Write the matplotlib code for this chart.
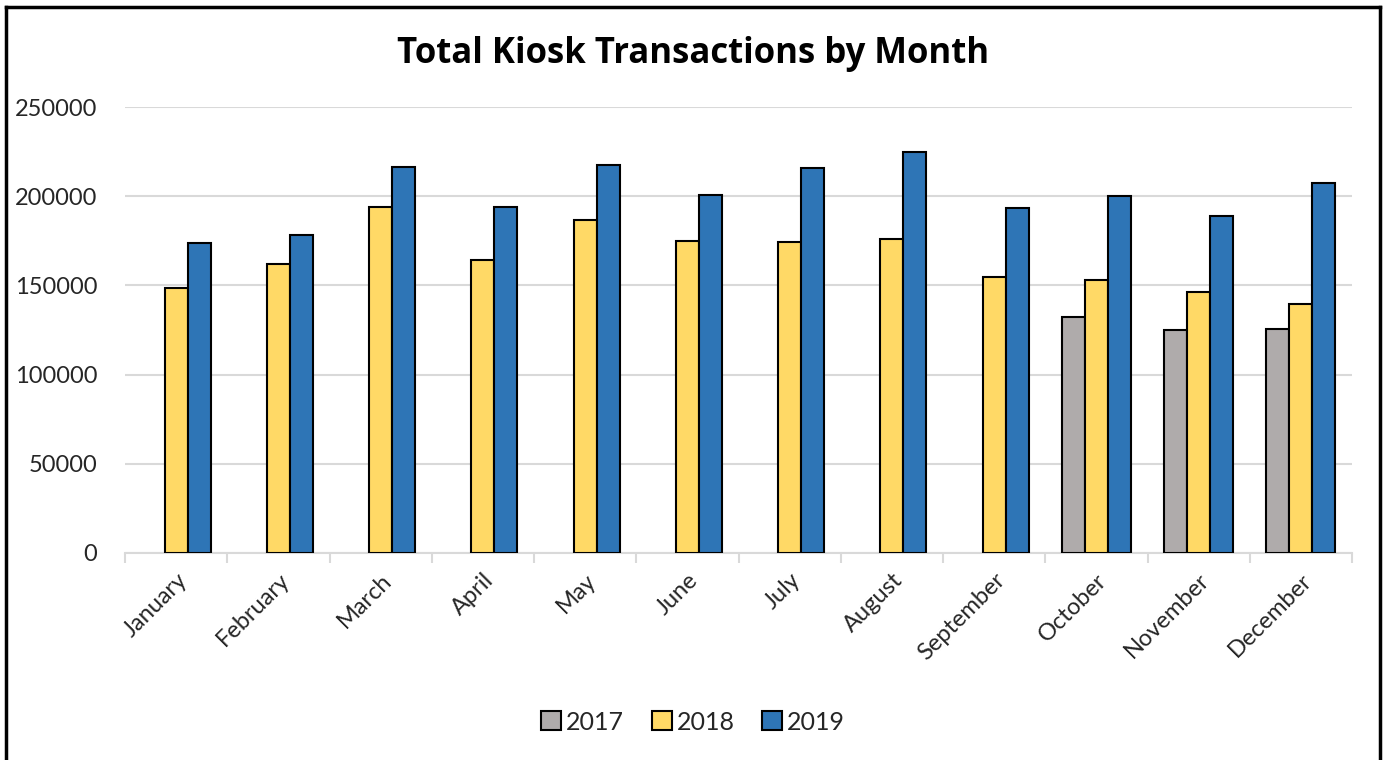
#!/usr/bin/env python3
"""
Grouped bar chart of total kiosk transactions by month, 2017-2019.
"""
import numpy as np
import matplotlib.pyplot as plt
from matplotlib.lines import Line2D

months = ['January', 'February', 'March', 'April', 'May', 'June', 'July',
          'August', 'September', 'October', 'November', 'December']
years = ['2017', '2018', '2019']

# 2017 only has data for the last three months
tx_2017 = [np.nan] * 9 + [132300, 125000, 125800]
tx_2018 = [148700, 162000, 194100, 164000, 186700, 174700,
           174200, 175800, 154500, 152800, 146500, 139600]
tx_2019 = [173500, 178300, 216400, 194100, 217700, 200800,
           216000, 224800, 193600, 200300, 189100, 207400]

colors = ['#AFABAB', '#FFD966', '#2E75B6']

plt.rcParams['font.family'] = ['Lato', 'DejaVu Sans']

fig = plt.figure(figsize=(13.86, 7.6), dpi=100)
ax = fig.add_axes([0.0902, 0.2724, 0.9755 - 0.0902, 0.8592 - 0.2724])

x = np.arange(len(months))
width = 0.225
for i, (vals, col, yr) in enumerate(zip([tx_2017, tx_2018, tx_2019], colors, years)):
    ax.bar(x + (i - 1) * width, vals, width, color=col, edgecolor='black',
           linewidth=1.5, label=yr, zorder=3)

# Axes styling
ax.set_xlim(-0.5, len(months) - 0.5)
ax.set_ylim(0, 250000)
ax.set_yticks(np.arange(0, 250001, 50000))
ax.yaxis.grid(True, color='#D9D9D9', linewidth=1.5, zorder=0)
for side in ['top', 'right', 'left']:
    ax.spines[side].set_visible(False)
ax.spines['bottom'].set_color('#D9D9D9')
ax.spines['bottom'].set_linewidth(1.5)

ax.set_xticks(x)
ax.set_xticklabels(months, rotation=45, ha='right', rotation_mode='anchor',
                   fontsize=17, color='#262626')
ax.set_xticks(np.arange(-0.5, len(months), 1), minor=True)
ax.tick_params(axis='x', which='major', length=0, pad=12)
ax.tick_params(axis='x', which='minor', length=7, width=1.5, color='#D9D9D9')
ax.tick_params(axis='y', length=0, labelsize=17, labelcolor='#262626', pad=20)

fig.suptitle('Total Kiosk Transactions by Month', x=0.5, y=0.952,
             fontsize=25, fontweight='bold', family=['Open Sans', 'DejaVu Sans'])

handles, labels = ax.get_legend_handles_labels()
fig.legend(handles, labels, loc='center', bbox_to_anchor=(0.5, 0.05), ncol=3,
           frameon=False, fontsize=18, handlelength=0.8, handleheight=0.8,
           handletextpad=0.2, columnspacing=1.1, labelcolor='#262626')

# Outer border (top, left, right)
border = dict(color='black', linewidth=2.5, transform=fig.transFigure)
fig.add_artist(Line2D([0.0045, 0.0045], [0, 0.991], **border))
fig.add_artist(Line2D([0.9955, 0.9955], [0, 0.991], **border))
fig.add_artist(Line2D([0.0045, 0.9955], [0.991, 0.991], **border))

fig.savefig('out.png', dpi=100)
